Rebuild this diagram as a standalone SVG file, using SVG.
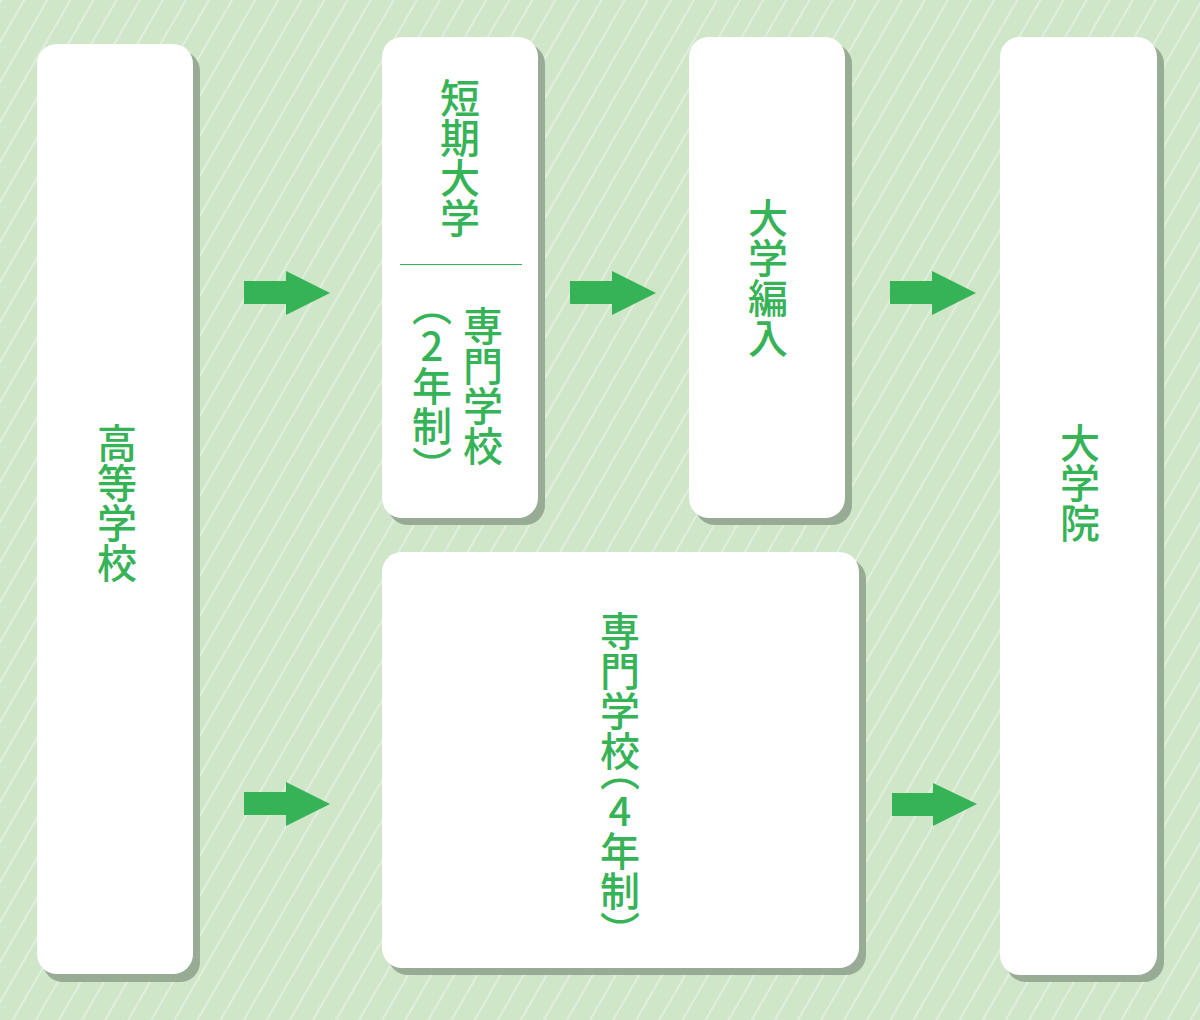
<svg xmlns="http://www.w3.org/2000/svg" width="1200" height="1020" viewBox="0 0 1200 1020">
<style>
.box{fill:#ffffff}
.shadow{fill:#98ab95}
.lbl{font-family:"Noto Sans CJK JP","Noto Sans CJK SC",sans-serif;font-size:40px;font-weight:500;fill:#36b257;writing-mode:vertical-rl;text-orientation:upright;font-feature-settings:"vhal" 1}
.arrow{fill:#36b257}
</style>
<defs>
<pattern id="stripes" width="20" height="20" patternUnits="userSpaceOnUse" patternTransform="rotate(30)">
<rect width="20" height="20" fill="#cfe6c9"/>
<rect x="0" y="0" width="2" height="20" fill="#ffffff" fill-opacity="0.35"/>
</pattern>
</defs>
<rect width="1200" height="1020" fill="url(#stripes)"/>

<g id="node-koukou">
<rect class="shadow" x="43" y="51" width="157" height="931" rx="20"/>
<rect class="box" x="37" y="44" width="156" height="930" rx="20"/>
<text class="lbl" x="117" y="423">高等学校</text>
</g>

<g id="node-tanki">
<rect class="shadow" x="388" y="44" width="157" height="481" rx="20"/>
<rect class="box" x="382" y="37" width="156" height="481" rx="20"/>
<text class="lbl" x="460" y="78">短期大学</text>
<line x1="400" y1="264.5" x2="522" y2="264.5" stroke="#36b257" stroke-width="1"/>
<text class="lbl" x="483" y="306">専門学校</text>
<text class="lbl" x="432" y="306">（2年制）</text>
</g>

<g id="node-hennyu">
<rect class="shadow" x="695" y="44" width="157" height="481" rx="20"/>
<rect class="box" x="689" y="37" width="156" height="481" rx="20"/>
<text class="lbl" x="768" y="198">大学編入</text>
</g>

<g id="node-senmon4">
<rect class="shadow" x="388" y="559" width="478" height="416" rx="20"/>
<rect class="box" x="382" y="552" width="477" height="416" rx="20"/>
<text class="lbl" x="620" y="611">専門学校（4年制）</text>
</g>

<g id="node-daigakuin">
<rect class="shadow" x="1006" y="44" width="158" height="938" rx="20"/>
<rect class="box" x="1000" y="37" width="157" height="938" rx="20"/>
<text class="lbl" x="1080" y="423">大学院</text>
</g>

<g id="connectors">
<polygon class="arrow" points="244,281 286,281 286,271 330,293 286,315 286,304 244,304"/>
<polygon class="arrow" points="570,281 612,281 612,271 656,293 612,315 612,304 570,304"/>
<polygon class="arrow" points="890,281 932,281 932,271 976,293 932,315 932,304 890,304"/>
<polygon class="arrow" points="244,792 286,792 286,782 330,804 286,826 286,815 244,815"/>
<polygon class="arrow" points="892,793 933,793 933,783 977,804 933,826 933,816 892,816"/>
</g>
</svg>
